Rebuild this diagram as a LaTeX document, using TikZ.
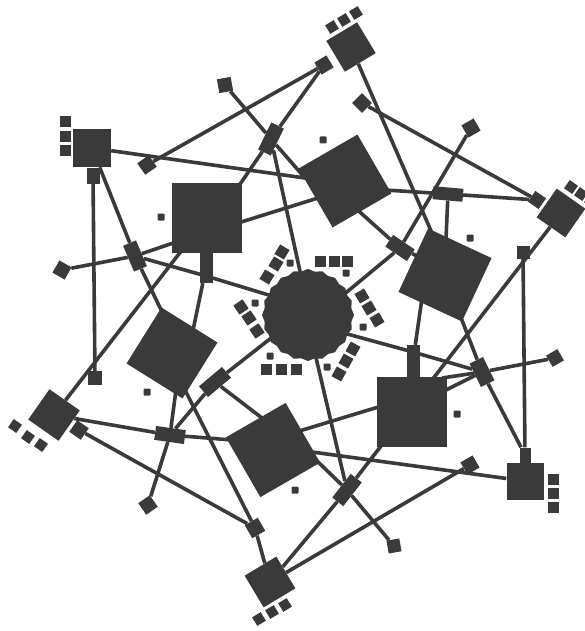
\documentclass[tikz,border=0pt]{standalone}
\usetikzlibrary{shapes.geometric}
\definecolor{ink}{RGB}{58,58,58}
\begin{document}
\begin{tikzpicture}[x=1pt,y=-1pt,
  sq/.style={fill=ink,draw=none,inner sep=0pt,minimum size=#1},
  rc/.style 2 args={fill=ink,draw=none,inner sep=0pt,minimum width=#1,minimum height=#2},
  spot/.style={fill=ink,draw=none,inner sep=0pt,minimum size=7pt,rounded corners=1pt},
  wire/.style={draw=ink,line width=3.6pt}]
\useasboundingbox (0,0) rectangle (584,631);
% central blob
\node[star,star points=20,star point ratio=1.05,fill=ink,draw=none,inner sep=0pt,minimum size=92pt] (blob) at (308,315) {};
% big squares
\node[sq=70pt] (UL) at (207,218) {};
\node[sq=68pt,rotate=30] (RT) at (345,181) {};
\node[sq=70pt,rotate=-25] (RS) at (445,275) {};
\node[sq=70pt] (LR) at (412,412) {};
\node[sq=69pt,rotate=30] (LC) at (273,450) {};
\node[sq=66pt,rotate=-32] (LS) at (172,353) {};
% outer nodes
\node[sq=38pt] (NTL) at (92,148) {};
\node[sq=36pt,rotate=31] (NT) at (351,47) {};
\node[sq=35pt,rotate=-35] (NR) at (561,213) {};
\node[sq=37pt] (NBR) at (525,481) {};
\node[sq=37pt,rotate=31] (NB) at (270,582) {};
\node[sq=37pt,rotate=-35] (NL) at (54,415) {};
% ports
\node[rc={13pt}{15pt}] (NTLp) at (93,176) {};
\node[sq=14pt,rotate=31] (NTp) at (324,65) {};
\node[sq=13pt,rotate=-35] (NRp) at (537,200) {};
\node[rc={11pt}{15pt}] (NBRp) at (525,455) {};
\node[sq=14pt,rotate=-35] (NLp) at (79,430) {};
\node[sq=15pt,rotate=30] (NBp) at (255,528) {};
\node[rc={13pt}{30pt}] (ULp) at (206,268) {};
\node[rc={13pt}{32pt}] (LRp) at (413,361) {};
\node[rc={30pt}{14pt},rotate=40] (LSp) at (215,382) {};
% junctions
\node[rc={14pt}{30pt},rotate=-26] (P1) at (271,139) {};
\node[rc={30pt}{13pt},rotate=-5] (P2) at (448,194) {};
\node[rc={26pt}{14pt},rotate=-34] (P3) at (400,248) {};
\node[rc={30pt}{14pt},rotate=-8] (P4) at (170,435) {};
\node[rc={28pt}{14pt},rotate=-67] (P5) at (135,256) {};
\node[rc={26pt}{15pt},rotate=-64] (P6) at (482,372) {};
\node[rc={30pt}{14pt},rotate=52] (P7) at (347,490) {};
% leaves
\node[sq=14pt,rotate=10] (L1) at (225,85) {};
\node[sq=14pt,rotate=35] (L2) at (147,165) {};
\node[sq=14pt,rotate=-30] (L3) at (62,270) {};
\node[sq=14pt,rotate=45] (L4) at (362,103) {};
\node[sq=14pt,rotate=30] (L5) at (471,128) {};
\node[sq=13pt] (L6) at (523,252) {};
\node[sq=13pt,rotate=30] (L7) at (555,358) {};
\node[sq=14pt,rotate=30] (L8) at (470,465) {};
\node[sq=13pt,rotate=10] (L9) at (394,546) {};
\node[sq=14pt,rotate=35] (L10) at (148,505) {};
\node[sq=14pt] (L11) at (95,378) {};
% small square triples
\foreach \x/\y [count=\i] in {65.5/122,65.5/137,65.5/151} \node[sq=11pt] (tl\i) at (\x,\y) {};
\foreach \x/\y [count=\i] in {332/27,344/20,356/13} \node[sq=10pt,rotate=31] (tt\i) at (\x,\y) {};
\foreach \x/\y [count=\i] in {571/187,581/194,591/201} \node[sq=10pt,rotate=-35] (tr\i) at (\x,\y) {};
\foreach \x/\y [count=\i] in {553/479,553/493,553/507} \node[sq=11pt] (tbr\i) at (\x,\y) {};
\foreach \x/\y [count=\i] in {259/619,272/612,285/605} \node[sq=10pt,rotate=31] (tb\i) at (\x,\y) {};
\foreach \x/\y [count=\i] in {15/426,28/437,41/445} \node[sq=10pt,rotate=-35] (tlf\i) at (\x,\y) {};
% groups round the blob
\foreach \x/\y [count=\i] in {320/261,334/261,347/261} \node[sq=11pt] (ga\i) at (\x,\y) {};
\foreach \x/\y [count=\i] in {362/296,369/308,377/320} \node[sq=11pt,rotate=30] (gb\i) at (\x,\y) {};
\foreach \x/\y [count=\i] in {353/349,346/361,339/374} \node[sq=11pt,rotate=-29] (gc\i) at (\x,\y) {};
\foreach \x/\y [count=\i] in {266/369,281/369,296/369} \node[sq=11pt] (gd\i) at (\x,\y) {};
\foreach \x/\y [count=\i] in {241/307,249/318,257/331} \node[sq=11pt,rotate=34] (ge\i) at (\x,\y) {};
\foreach \x/\y [count=\i] in {282/252,276/264,267/277} \node[sq=11pt,rotate=-31] (gf\i) at (\x,\y) {};
% dots
\foreach \x/\y [count=\i] in {346/273,363/327,327/367,270/356,255/303,290/263,161/217,323/140,470/238,457/414,147/392,295/490}
  \node[spot] (d\i) at (\x,\y) {};
% contact points inside shapes
\coordinate (cRTl) at (305,178);
\coordinate (cRTr2) at (318,198);
\coordinate (cRTr) at (385,190);
\coordinate (cRTb) at (352,205);
\coordinate (cULtr) at (236,190);
\coordinate (cULl) at (182,240);
\coordinate (cULbl) at (182,250);
\coordinate (cULr) at (238,223);
\coordinate (cULp) at (206,276);
\coordinate (cRSt) at (435,240);
\coordinate (cRSt2) at (446,238);
\coordinate (cRSl) at (430,262);
\coordinate (cRSbl) at (422,298);
\coordinate (cRSb) at (458,310);
\coordinate (cLSt) at (165,318);
\coordinate (cLSt2) at (192,335);
\coordinate (cLSb) at (176,390);
\coordinate (cLSb2) at (185,390);
\coordinate (cLRl) at (385,405);
\coordinate (cLRr1) at (442,378);
\coordinate (cLRr2) at (442,392);
\coordinate (cLRp) at (413,352);
\coordinate (cLCl) at (232,440);
\coordinate (cLCtl) at (262,418);
\coordinate (cLCtr) at (296,432);
\coordinate (cLCr) at (312,452);
\coordinate (cLCr2) at (314,458);
\coordinate (bT) at (303,285);
\coordinate (bUL) at (272,296);
\coordinate (bUR) at (342,296);
\coordinate (bR) at (340,332);
\coordinate (bB) at (310,332);
\coordinate (bLL) at (275,335);
% connectors
\draw[wire] (NTL) -- (cRTl);
\draw[wire] (NTL) -- (P5) -- (cLSt);
\draw[wire] (NTLp) -- (L11);
\draw[wire] (L2) -- (NTp);
\draw[wire] (L1) -- (P1) -- (cRTl);
\draw[wire] (cULtr) -- (P1) -- (NTp);
\draw[wire] (P1) -- (bT);
\draw[wire] (L3) -- (P5) -- (cULl);
\draw[wire] (P5) -- (cULp) -- (bUL);
\draw[wire] (ULp) -- (cLSt2);
\draw[wire] (cULbl) -- (NL);
\draw[wire] (cULr) -- (cRTr2);
\draw[wire] (cRTr) -- (P2) -- (NRp);
\draw[wire] (L4) -- (NRp);
\draw[wire] (NT) -- (cRSt);
\draw[wire] (L5) -- (P3) -- (bUR);
\draw[wire] (cRTb) -- (P3) -- (cRSl);
\draw[wire] (P2) -- (cRSt2);
\draw[wire] (NR) -- (P7) -- (NB);
\draw[wire] (cRSb) -- (P6) -- (NBRp);
\draw[wire] (P6) -- (L7);
\draw[wire] (bR) -- (cLRp) -- (P6);
\draw[wire] (LRp) -- (cRSbl);
\draw[wire] (P6) -- (cLRr1);
\draw[wire] (P6) -- (cLRr2);
\draw[wire] (L6) -- (NBRp);
\draw[wire] (NBR) -- (cLCr);
\draw[wire] (cLRl) -- (cLCtr);
\draw[wire] (cLCr2) -- (P7) -- (L9);
\draw[wire] (bB) -- (P7);
\draw[wire] (L8) -- (NB);
\draw[wire] (bLL) -- (LSp) -- (cLCtl);
\draw[wire] (LSp) -- (P4);
\draw[wire] (cLSb) -- (P4) -- (L10);
\draw[wire] (NL) -- (P4) -- (cLCl);
\draw[wire] (NLp) -- (NBp);
\draw[wire] (cLSb2) -- (NBp) -- (NB);
\end{tikzpicture}
\end{document}
